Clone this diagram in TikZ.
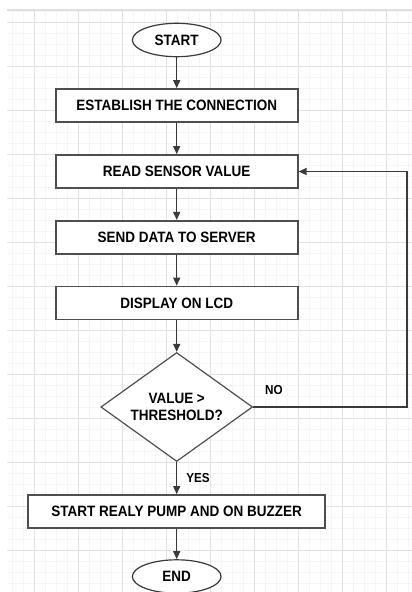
\documentclass[tikz,border=0pt]{standalone}
\usepackage{fontspec}
\setmainfont{Liberation Sans}[FakeStretch=0.9]
\usetikzlibrary{shapes.geometric,arrows.meta}
\definecolor{gridmajor}{HTML}{E2E2E2}
\definecolor{gridminor}{HTML}{F5F5F5}
\definecolor{gridtop}{HTML}{E0E0E0}
\definecolor{edge}{HTML}{4E4E4E}
\definecolor{wire}{HTML}{3A3A3A}
\begin{document}
\begin{tikzpicture}[x=1pt,y=-1pt,
  every node/.style={font=\fontsize{15}{17}\selectfont\bfseries, text=black},
  box/.style={draw=edge, line width=1.8pt, fill=white, minimum width=242pt,
    minimum height=33pt, inner sep=0pt},
  term/.style={ellipse, draw=wire, line width=1.2pt, fill=white,
    minimum width=88.7pt, minimum height=33.4pt, inner sep=0pt},
  decision/.style={diamond, draw=edge, line width=1.2pt, fill=white, aspect=1.39,
    minimum width=151.7pt, minimum height=109pt, inner sep=0pt, align=center},
  flow/.style={draw=wire, line width=1.4pt, -{Triangle[length=8pt,width=7pt]}},
  tag/.style={font=\fontsize{13}{15}\selectfont\bfseries}
]
% page and background grid
\useasboundingbox (0,0) rectangle (412,592);
\fill[white] (0,0) rectangle (412,592);
\foreach \k in {0,...,36}
  \draw[gridminor, line width=0.8pt] ({12.3+11*\k},10) -- ({12.3+11*\k},592);
\foreach \k in {0,...,52}
  \draw[gridminor, line width=0.8pt] (7,{11.7+11*\k}) -- (412,{11.7+11*\k});
\foreach \k in {0,...,8}
  \draw[gridmajor, line width=0.9pt] ({34.3+44*\k},10) -- ({34.3+44*\k},592);
\foreach \k in {0,...,12}
  \draw[gridmajor, line width=0.9pt] (7,{22.7+44*\k}) -- (412,{22.7+44*\k});
\draw[gridtop, line width=2pt] (7,10) -- (412,10);

% flowchart steps
\node[term] (start) at (176.7,40) {START};
\node[box] (est) at (176.7,105.5) {ESTABLISH THE CONNECTION};
\node[box] (read) at (176.7,171.5) {READ SENSOR VALUE};
\node[box] (send) at (176.7,237.3) {SEND DATA TO SERVER};
\node[box] (disp) at (176.7,303) {DISPLAY ON LCD};
\node[decision] (dec) at (176.7,407) {VALUE >\\THRESHOLD?};
\node[box, minimum width=297pt] (pump) at (176.7,511.5) {START REALY PUMP AND ON BUZZER};
\node[term] (stop) at (176.7,576.5) {END};
\coordinate (turnlow) at (407,407);
\coordinate (turnhigh) at (407,171.5);

% connectors
\draw[flow] (start) -- (est);
\draw[flow] (est) -- (read);
\draw[flow] (read) -- (send);
\draw[flow] (send) -- (disp);
\draw[flow] (disp) -- (dec);
\draw[flow] (dec) -- (pump);
\draw[flow] (pump) -- (stop);
\draw[flow] (dec.east) -- (turnlow) -- (turnhigh) -- (read.east);

% branch labels
\node[tag] (no) at (274,390.5) {NO};
\node[tag] (yes) at (198,478) {YES};
\end{tikzpicture}
\end{document}
